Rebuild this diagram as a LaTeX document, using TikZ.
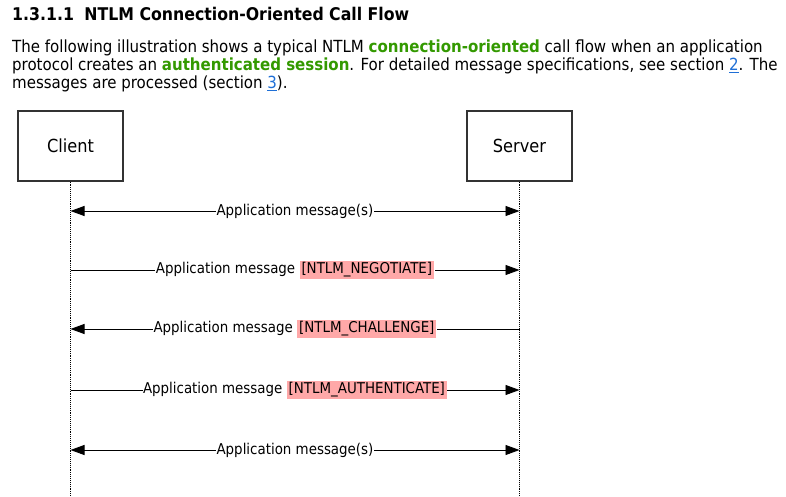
\documentclass[tikz,border=0pt]{standalone}
\usepackage{fontspec}
\setmainfont{DejaVu Sans Condensed}
\usetikzlibrary{arrows.meta,calc}
\definecolor{hl}{HTML}{FFA8A8}
\definecolor{grn}{HTML}{339900}
\definecolor{lnk}{HTML}{1F6FD6}
\definecolor{boxln}{HTML}{333333}
\newcommand\hlbox[1]{{\setlength{\fboxsep}{2pt}\colorbox{hl}{#1}}}
\newcommand\lnkref[1]{\textcolor{lnk}{\underline{#1}}}
\begin{document}
\begin{tikzpicture}[x=1pt,y=-1pt,
  actor/.style={draw=boxln,line width=1.2pt,minimum width=105pt,minimum height=70pt,inner sep=0pt,font=\fontsize{18}{20}\selectfont},
  life/.style={densely dotted,line width=0.9pt,black},
  msg/.style={line width=0.9pt,black},
  tip/.style={-{Triangle[length=14pt,width=10pt]}},
  tips/.style={{Triangle[length=14pt,width=10pt]}-{Triangle[length=14pt,width=10pt]}},
  tipl/.style={{Triangle[length=14pt,width=10pt]}-},
  lbl/.style={fill=white,inner sep=0.5pt,font=\fontsize{14.9}{16}\selectfont},
  body/.style={anchor=base west,inner sep=0pt,font=\fontsize{16.7}{18}\selectfont}]
\useasboundingbox (0,0) rectangle (786,497);
% heading and text
\node[anchor=base west,inner sep=0pt,font=\bfseries\fontsize{17.5}{20}\selectfont] (title) at (12,21) {1.3.1.1\hspace{0.6em}NTLM Connection-Oriented Call Flow};
\node[body] (t1) at (12,53) {The following illustration shows a typical NTLM \textcolor{grn}{\bfseries connection-oriented} call flow when an application};
\node[body] (t2) at (12,71) {protocol creates an \textcolor{grn}{\bfseries authenticated session}. For detailed message specifications, see section \lnkref{2}. The};
\node[body] (t3) at (12,89) {messages are processed (section \lnkref{3}).};
% actors
\node[actor] (client) at (70.5,146) {Client};
\node[actor] (server) at (519.5,146) {Server};
\coordinate (cend) at (70.5,497);
\coordinate (send) at (519.5,497);
\draw[life] (client.south) -- (cend);
\draw[life] (server.south) -- (send);
% message points
\foreach \i/\y in {1/211,2/270,3/329,4/390,5/450}{
  \coordinate (c\i) at (70.5,\y);
  \coordinate (s\i) at (519.5,\y);
}
\draw[msg,tips] (c1) -- node[lbl] (m1) {Application message(s)} (s1);
\draw[msg,tip] (c2) -- node[lbl] (m2) {Application message \hlbox{[NTLM\_NEGOTIATE]}} (s2);
\draw[msg,tipl] (c3) -- node[lbl] (m3) {Application message \hlbox{[NTLM\_CHALLENGE]}} (s3);
\draw[msg,tip] (c4) -- node[lbl] (m4) {Application message \hlbox{[NTLM\_AUTHENTICATE]}} (s4);
\draw[msg,tips] (c5) -- node[lbl] (m5) {Application message(s)} (s5);
\end{tikzpicture}
\end{document}
